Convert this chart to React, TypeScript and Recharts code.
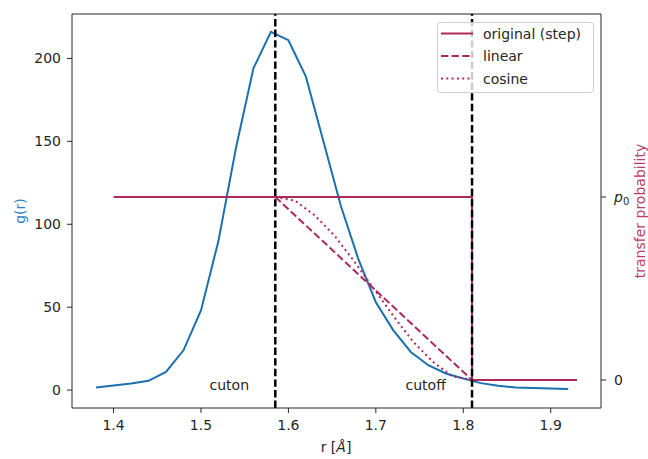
import { LineChart, Line, XAxis, YAxis, ReferenceLine, ReferenceDot } from "recharts"

// g(r) histogram
const rValues = [1.38, 1.4, 1.42, 1.44, 1.46, 1.48, 1.5, 1.52, 1.54, 1.56, 1.58, 1.6, 1.62, 1.64, 1.66, 1.68, 1.7, 1.72, 1.74, 1.76, 1.78, 1.8, 1.82, 1.84, 1.86, 1.88, 1.9, 1.92]
const gValues = [1.6, 2.8, 4.0, 5.6, 11, 24, 48, 90, 146, 194, 216, 211, 189, 150, 111, 79, 53, 36, 23, 15, 10, 7, 4.2, 2.6, 1.6, 1.2, 0.9, 0.6]

// transfer probability curves (p0 = 1)
const stepR = [1.4, 1.81, 1.81, 1.93]
const stepP = [1, 1, 0, 0]
const linearR = [1.585, 1.81]
const linearP = [1, 0]
const cosineR = [1.585, 1.6075, 1.63, 1.6525, 1.675, 1.6975, 1.72, 1.7425, 1.765, 1.7875, 1.81]
const cosineP = [1, 0.98, 0.9, 0.79, 0.65, 0.5, 0.35, 0.21, 0.1, 0.02, 0]

const cuton = 1.585
const cutoff = 1.81

const xTicks = [1.4, 1.5, 1.6, 1.7, 1.8, 1.9]
const yTicks = [0, 50, 100, 150, 200]
const pTicks = [0, 1]

const X_DOMAIN = [1.3525, 1.9575]
const G_DOMAIN = [-10.8, 226.8]

const BLUE = "#1a70b0"
const RED = "#ae2858"
const FONT = "DejaVu Sans, sans-serif"
const INK = "#262626"

const grData = rValues.map((r, i) => ({ r, g: gValues[i] }))
const stepData = stepR.map((r, i) => ({ r, p: stepP[i] }))
const linearData = linearR.map((r, i) => ({ r, p: linearP[i] }))
const cosineData = cosineR.map((r, i) => ({ r, p: cosineP[i] }))

const legendItems = [
  { name: "original (step)", dash: undefined },
  { name: "linear", dash: "7.4 3.2" },
  { name: "cosine", dash: "2 3.3" },
]

function LegendBox() {
  return (
    <svg width={157} height={71} style={{ position: "absolute", left: 437, top: 22 }}>
      <rect x={0.5} y={0.5} width={156} height={70} rx={3} fill="white" fillOpacity={0.8} stroke="#cccccc" />
      {legendItems.map((it, i) => (
        <g key={it.name}>
          <line x1={4} x2={36} y1={11.5 + i * 22.5} y2={11.5 + i * 22.5} stroke={RED} strokeWidth={2} strokeDasharray={it.dash} />
          <text x={46} y={16.5 + i * 22.5} fontFamily={FONT} fontSize={14} fill={INK}>{it.name}</text>
        </g>
      ))}
    </svg>
  )
}

function RightTick(props: any) {
  const { x, y, payload } = props
  if (payload.value === 1) {
    return (
      <text x={x + 6} y={y + 5} fontFamily={FONT} fontSize={14} fill={INK}>
        <tspan fontStyle="italic">p</tspan>
        <tspan fontSize={10} dy={3}>0</tspan>
      </text>
    )
  }
  return (
    <text x={x + 6} y={y + 5} fontFamily={FONT} fontSize={14} fill={INK}>0</text>
  )
}

const textLabel = (txt: string) => (p: any) => (
  <text x={p.cx} y={p.cy} textAnchor="end" fontFamily={FONT} fontSize={14} fill={INK}>{txt}</text>
)

const sideLabel = (txt: string, cx: number, color: string) => (p: any) => {
  const vb = p.viewBox || {}
  const cy = (vb.y ?? 14) + (vb.height ?? 394) / 2
  return (
    <text x={cx} y={cy} transform={`rotate(-90 ${cx} ${cy})`} textAnchor="middle" dominantBaseline="central" fontFamily={FONT} fontSize={14} fill={color}>
      {txt}
    </text>
  )
}

export default function App() {
  return (
    <div style={{ position: "absolute", left: 0, top: 0, width: 648, height: 459, background: "white" }}>
      <LineChart width={648} height={459} margin={{ top: 14, right: 0, bottom: 0, left: 0 }}>
        <XAxis
          dataKey="r"
          type="number"
          domain={X_DOMAIN}
          ticks={xTicks}
          allowDataOverflow
          height={51}
          tickSize={5}
          tickMargin={7}
          stroke={INK}
          tick={{ fill: INK, fontSize: 14, fontFamily: FONT }}
          tickFormatter={(v) => v.toFixed(1)}
          label={() => (
            <text x={336} y={452} textAnchor="middle" fontFamily={FONT} fontSize={14} fill={INK}>
              <tspan>r [</tspan>
              <tspan fontStyle="italic">Å</tspan>
              <tspan>]</tspan>
            </text>
          )}
        />
        <YAxis
          yAxisId="left"
          type="number"
          domain={G_DOMAIN}
          ticks={yTicks}
          allowDataOverflow
          width={72}
          tickSize={5}
          tickMargin={6}
          stroke={INK}
          tick={{ fill: INK, fontSize: 14, fontFamily: FONT }}
          label={sideLabel("g(r)", 20, "#2a84c4")}
        />
        <YAxis
          yAxisId="right"
          orientation="right"
          type="number"
          domain={[-0.153, 2.0]}
          ticks={pTicks}
          allowDataOverflow
          width={47}
          tickSize={5}
          stroke={INK}
          tick={<RightTick />}
          label={sideLabel("transfer probability", 640, "#bd3a6a")}
        />
        <ReferenceLine yAxisId="left" y={G_DOMAIN[1]} stroke={INK} strokeWidth={1} />
        <Line yAxisId="left" data={grData} dataKey="g" stroke={BLUE} strokeWidth={2} dot={false} isAnimationActive={false} type="linear" />
        <Line yAxisId="right" data={stepData} dataKey="p" stroke={RED} strokeWidth={2} dot={false} isAnimationActive={false} type="linear" />
        <Line yAxisId="right" data={linearData} dataKey="p" stroke={RED} strokeWidth={2} strokeDasharray="7.4 3.2" dot={false} isAnimationActive={false} type="linear" />
        <Line yAxisId="right" data={cosineData} dataKey="p" stroke={RED} strokeWidth={2} strokeDasharray="2 3.3" dot={false} isAnimationActive={false} type="linear" />
        <ReferenceLine yAxisId="left" x={cuton} stroke="black" strokeWidth={2.5} strokeDasharray="7.4 3.2" />
        <ReferenceLine yAxisId="left" x={cutoff} stroke="black" strokeWidth={2.5} strokeDasharray="7.4 3.2" />
        <ReferenceDot yAxisId="left" x={cuton - 0.03} y={0} r={0} shape={textLabel("cuton")} />
        <ReferenceDot yAxisId="left" x={cutoff - 0.03} y={0} r={0} shape={textLabel("cutoff")} />
      </LineChart>
      <LegendBox />
    </div>
  )
}
